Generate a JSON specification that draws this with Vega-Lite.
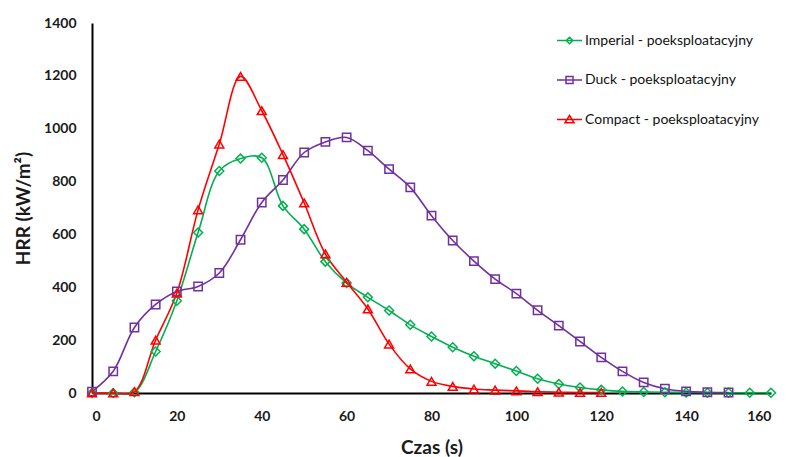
{
  "$schema": "https://vega.github.io/schema/vega-lite/v6.json",
  "width": 679,
  "height": 370,
  "autosize": {"type": "none"},
  "padding": {"left": 92, "top": 23, "right": 15, "bottom": 64},
  "background": "white",
  "config": {"view": {"stroke": null}, "font": "Lato"},
  "datasets": {
    "hrr": [
      {"s": "Imperial - poeksploatacyjny", "t": 0, "v": 0},
      {"s": "Imperial - poeksploatacyjny", "t": 5, "v": 0},
      {"s": "Imperial - poeksploatacyjny", "t": 10, "v": 3},
      {"s": "Imperial - poeksploatacyjny", "t": 15, "v": 157},
      {"s": "Imperial - poeksploatacyjny", "t": 20, "v": 349},
      {"s": "Imperial - poeksploatacyjny", "t": 25, "v": 607},
      {"s": "Imperial - poeksploatacyjny", "t": 30, "v": 840},
      {"s": "Imperial - poeksploatacyjny", "t": 35, "v": 887},
      {"s": "Imperial - poeksploatacyjny", "t": 40, "v": 890},
      {"s": "Imperial - poeksploatacyjny", "t": 45, "v": 708},
      {"s": "Imperial - poeksploatacyjny", "t": 50, "v": 620},
      {"s": "Imperial - poeksploatacyjny", "t": 55, "v": 497},
      {"s": "Imperial - poeksploatacyjny", "t": 60, "v": 416},
      {"s": "Imperial - poeksploatacyjny", "t": 65, "v": 362},
      {"s": "Imperial - poeksploatacyjny", "t": 70, "v": 312},
      {"s": "Imperial - poeksploatacyjny", "t": 75, "v": 258},
      {"s": "Imperial - poeksploatacyjny", "t": 80, "v": 214},
      {"s": "Imperial - poeksploatacyjny", "t": 85, "v": 173},
      {"s": "Imperial - poeksploatacyjny", "t": 90, "v": 139},
      {"s": "Imperial - poeksploatacyjny", "t": 95, "v": 111},
      {"s": "Imperial - poeksploatacyjny", "t": 100, "v": 83},
      {"s": "Imperial - poeksploatacyjny", "t": 105, "v": 54},
      {"s": "Imperial - poeksploatacyjny", "t": 110, "v": 34},
      {"s": "Imperial - poeksploatacyjny", "t": 115, "v": 21},
      {"s": "Imperial - poeksploatacyjny", "t": 120, "v": 12},
      {"s": "Imperial - poeksploatacyjny", "t": 125, "v": 6},
      {"s": "Imperial - poeksploatacyjny", "t": 130, "v": 4},
      {"s": "Imperial - poeksploatacyjny", "t": 135, "v": 3},
      {"s": "Imperial - poeksploatacyjny", "t": 140, "v": 2},
      {"s": "Imperial - poeksploatacyjny", "t": 145, "v": 1},
      {"s": "Imperial - poeksploatacyjny", "t": 150, "v": 1},
      {"s": "Imperial - poeksploatacyjny", "t": 155, "v": 1},
      {"s": "Imperial - poeksploatacyjny", "t": 160, "v": 1},
      {"s": "Duck - poeksploatacyjny", "t": 0, "v": 5},
      {"s": "Duck - poeksploatacyjny", "t": 5, "v": 82},
      {"s": "Duck - poeksploatacyjny", "t": 10, "v": 248},
      {"s": "Duck - poeksploatacyjny", "t": 15, "v": 335},
      {"s": "Duck - poeksploatacyjny", "t": 20, "v": 384},
      {"s": "Duck - poeksploatacyjny", "t": 25, "v": 403},
      {"s": "Duck - poeksploatacyjny", "t": 30, "v": 454},
      {"s": "Duck - poeksploatacyjny", "t": 35, "v": 580},
      {"s": "Duck - poeksploatacyjny", "t": 40, "v": 721},
      {"s": "Duck - poeksploatacyjny", "t": 45, "v": 806},
      {"s": "Duck - poeksploatacyjny", "t": 50, "v": 910},
      {"s": "Duck - poeksploatacyjny", "t": 55, "v": 950},
      {"s": "Duck - poeksploatacyjny", "t": 60, "v": 967},
      {"s": "Duck - poeksploatacyjny", "t": 65, "v": 917},
      {"s": "Duck - poeksploatacyjny", "t": 70, "v": 847},
      {"s": "Duck - poeksploatacyjny", "t": 75, "v": 778},
      {"s": "Duck - poeksploatacyjny", "t": 80, "v": 671},
      {"s": "Duck - poeksploatacyjny", "t": 85, "v": 577},
      {"s": "Duck - poeksploatacyjny", "t": 90, "v": 499},
      {"s": "Duck - poeksploatacyjny", "t": 95, "v": 431},
      {"s": "Duck - poeksploatacyjny", "t": 100, "v": 376},
      {"s": "Duck - poeksploatacyjny", "t": 105, "v": 313},
      {"s": "Duck - poeksploatacyjny", "t": 110, "v": 255},
      {"s": "Duck - poeksploatacyjny", "t": 115, "v": 195},
      {"s": "Duck - poeksploatacyjny", "t": 120, "v": 135},
      {"s": "Duck - poeksploatacyjny", "t": 125, "v": 82},
      {"s": "Duck - poeksploatacyjny", "t": 130, "v": 40},
      {"s": "Duck - poeksploatacyjny", "t": 135, "v": 16},
      {"s": "Duck - poeksploatacyjny", "t": 140, "v": 6},
      {"s": "Duck - poeksploatacyjny", "t": 145, "v": 3},
      {"s": "Duck - poeksploatacyjny", "t": 150, "v": 2},
      {"s": "Compact - poeksploatacyjny", "t": 0, "v": 0},
      {"s": "Compact - poeksploatacyjny", "t": 5, "v": 0},
      {"s": "Compact - poeksploatacyjny", "t": 10, "v": 5},
      {"s": "Compact - poeksploatacyjny", "t": 15, "v": 200},
      {"s": "Compact - poeksploatacyjny", "t": 20, "v": 378},
      {"s": "Compact - poeksploatacyjny", "t": 25, "v": 693},
      {"s": "Compact - poeksploatacyjny", "t": 30, "v": 942},
      {"s": "Compact - poeksploatacyjny", "t": 35, "v": 1198},
      {"s": "Compact - poeksploatacyjny", "t": 40, "v": 1068},
      {"s": "Compact - poeksploatacyjny", "t": 45, "v": 902},
      {"s": "Compact - poeksploatacyjny", "t": 50, "v": 719},
      {"s": "Compact - poeksploatacyjny", "t": 55, "v": 526},
      {"s": "Compact - poeksploatacyjny", "t": 60, "v": 419},
      {"s": "Compact - poeksploatacyjny", "t": 65, "v": 318},
      {"s": "Compact - poeksploatacyjny", "t": 70, "v": 185},
      {"s": "Compact - poeksploatacyjny", "t": 75, "v": 91},
      {"s": "Compact - poeksploatacyjny", "t": 80, "v": 44},
      {"s": "Compact - poeksploatacyjny", "t": 85, "v": 25},
      {"s": "Compact - poeksploatacyjny", "t": 90, "v": 15},
      {"s": "Compact - poeksploatacyjny", "t": 95, "v": 11},
      {"s": "Compact - poeksploatacyjny", "t": 100, "v": 8},
      {"s": "Compact - poeksploatacyjny", "t": 105, "v": 5},
      {"s": "Compact - poeksploatacyjny", "t": 110, "v": 3},
      {"s": "Compact - poeksploatacyjny", "t": 115, "v": 2},
      {"s": "Compact - poeksploatacyjny", "t": 120, "v": 2}
    ]
  },
  "data": {"name": "hrr"},
  "encoding": {
    "x": {
      "field": "t", "type": "quantitative",
      "scale": {"domain": [0, 160], "nice": false, "zero": true},
      "axis": {
        "values": [0, 20, 40, 60, 80, 100, 120, 140, 160],
        "format": "d",
        "title": "Czas (s)",
        "grid": false, "ticks": false, "tickSize": 0,
        "domainColor": "#000000", "domainWidth": 2,
        "labelFont": "Lato", "labelFontSize": 14, "labelFontWeight": "bold", "labelColor": "#1a1a1a",
        "labelPadding": 16,
        "titleFont": "Lato", "titleFontSize": 19, "titleFontWeight": "bold", "titleColor": "#1a1a1a",
        "titlePadding": 15
      }
    },
    "y": {
      "field": "v", "type": "quantitative",
      "scale": {"domain": [0, 1400], "nice": false},
      "axis": {
        "values": [0, 200, 400, 600, 800, 1000, 1200, 1400],
        "format": "d",
        "title": "HRR (kW/m²)",
        "grid": false, "ticks": false, "tickSize": 0,
        "domainColor": "#000000", "domainWidth": 2,
        "labelFont": "Lato", "labelFontSize": 14, "labelFontWeight": "bold", "labelColor": "#1a1a1a",
        "labelPadding": 16,
        "titleFont": "Lato", "titleFontSize": 19, "titleFontWeight": "bold", "titleColor": "#1a1a1a",
        "titlePadding": 10
      }
    },
    "color": {
      "field": "s", "type": "nominal",
      "scale": {
        "domain": ["Imperial - poeksploatacyjny", "Duck - poeksploatacyjny", "Compact - poeksploatacyjny"],
        "range": ["#00B050", "#7030A0", "#FF0000"]
      },
      "legend": {
        "title": null,
        "orient": "none",
        "legendX": 464,
        "legendY": 4,
        "padding": 0,
        "symbolSize": 625,
        "symbolType": "stroke",
        "symbolStrokeWidth": 1.5,
        "symbolFillColor": "transparent",
        "rowPadding": 18.5,
        "labelOffset": 2,
        "labelFont": "Lato",
        "labelFontSize": 14,
        "labelColor": "#111111",
        "labelLimit": 300,
        "encode": {
          "symbols": {
            "update": {
              "shape": {"signal": "datum.value === 'Imperial - poeksploatacyjny' ? 'M-1,0H1M-0.26,0L0,-0.26L0.26,0L0,0.26Z' : datum.value === 'Duck - poeksploatacyjny' ? 'M-1,0H1M-0.28,-0.28H0.28V0.28H-0.28Z' : 'M-1,0H1M0,-0.32L0.36,0.26H-0.36Z'"},
              "fill": {"value": "transparent"}
            }
          }
        }
      }
    }
  },
  "layer": [
    {"mark": {"type": "line", "interpolate": "catmull-rom", "strokeWidth": 1.6}},
    {
      "transform": [{"filter": "datum.s === 'Imperial - poeksploatacyjny'"}],
      "mark": {"type": "point", "shape": "diamond", "filled": false, "strokeWidth": 1.5, "size": 80, "opacity": 1}
    },
    {
      "transform": [{"filter": "datum.s === 'Duck - poeksploatacyjny'"}],
      "mark": {"type": "point", "shape": "square", "filled": false, "strokeWidth": 1.5, "size": 70, "opacity": 1}
    },
    {
      "transform": [{"filter": "datum.s === 'Compact - poeksploatacyjny'"}],
      "mark": {"type": "point", "shape": "triangle-up", "filled": false, "strokeWidth": 1.5, "size": 80, "opacity": 1}
    }
  ]
}
